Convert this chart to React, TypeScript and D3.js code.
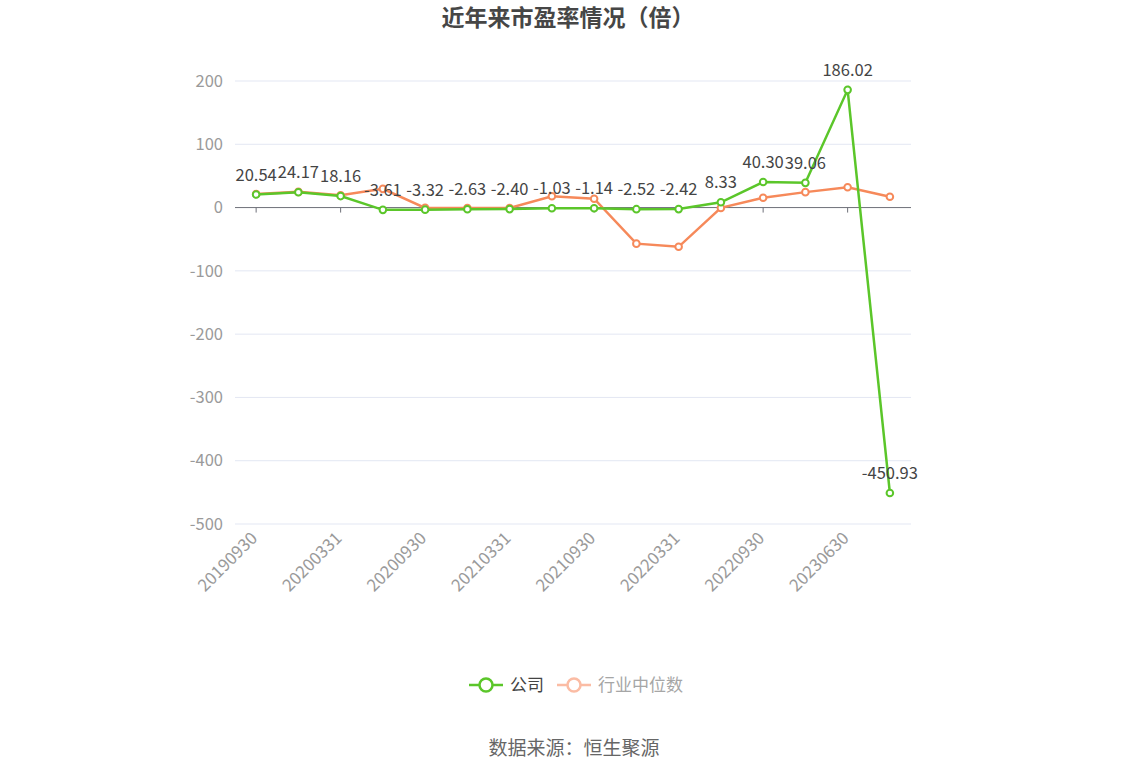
import * as d3 from 'd3';
import React, { useEffect, useRef } from 'react';

const TITLE = "近年来市盈率情况（倍）";
const SOURCE = "数据来源：恒生聚源";

const periods = [
  "20190930", "20191231", "20200331", "20200630", "20200930", "20201231",
  "20210331", "20210630", "20210930", "20211231", "20220331", "20220630",
  "20220930", "20221231", "20230630", "20230930",
];
const companyPE = [
  20.54, 24.17, 18.16, -3.61, -3.32, -2.63, -2.40, -1.03,
  -1.14, -2.52, -2.42, 8.33, 40.30, 39.06, 186.02, -450.93,
];
const industryPE = [
  21.5, 24.8, 19.3, 29.6, -0.5, -0.6, -0.8, 18.0,
  14.0, -57.0, -62.0, -0.5, 15.6, 24.4, 32.0, 17.0,
];
const yTicks = [200, 100, 0, -100, -200, -300, -400, -500];

const GREEN = "#5bc62a";
const ORANGE = "#f6895a";

const App: React.FC = () => {
  const svgRef = useRef<SVGSVGElement>(null);

  useEffect(() => {
    if (!svgRef.current) { return; }
    const svg = d3.select(svgRef.current);
    svg.selectAll("*").remove();

    const width = 1148;
    const height = 776;
    const margin = { top: 81, right: 237, bottom: 252, left: 235 };
    const chartW = width - margin.left - margin.right;
    const chartH = height - margin.top - margin.bottom;

    const x = d3.scaleBand().domain(periods).range([0, chartW]);
    const y = d3.scaleLinear().domain([-500, 200]).range([chartH, 0]);
    const cx = (p: string) => x(p)! + x.bandwidth() / 2;

    const font = "'Microsoft YaHei', 'Noto Sans CJK SC', sans-serif";

    // title
    svg.append("text")
      .attr("x", 568).attr("y", 26)
      .attr("text-anchor", "middle")
      .style("font-family", font)
      .style("font-size", "23px")
      .style("font-weight", "bold")
      .style("fill", "#464646")
      .text(TITLE);

    const g = svg.append("g").attr("transform", `translate(${margin.left},${margin.top})`);

    // grid lines
    g.selectAll(".grid")
      .data(yTicks.filter(t => t !== 0))
      .enter().append("line")
      .attr("x1", 0).attr("x2", chartW)
      .attr("y1", t => y(t)).attr("y2", t => y(t))
      .style("stroke", "#e3e7f3")
      .style("stroke-width", 1);

    // y labels
    g.selectAll(".ylab")
      .data(yTicks)
      .enter().append("text")
      .attr("x", -12).attr("y", t => y(t))
      .attr("dy", "0.35em")
      .attr("text-anchor", "end")
      .style("font-family", font)
      .style("font-size", "16.5px")
      .style("fill", "#9a9a9a")
      .text(t => `${t}`);

    // zero axis line
    g.append("line")
      .attr("x1", 0).attr("x2", chartW)
      .attr("y1", y(0)).attr("y2", y(0))
      .style("stroke", "#6e7079")
      .style("stroke-width", 1);

    const shown = periods.filter((_, i) => i % 2 === 0);
    g.selectAll(".xtick")
      .data(shown)
      .enter().append("line")
      .attr("x1", p => cx(p)).attr("x2", p => cx(p))
      .attr("y1", y(0)).attr("y2", y(0) + 5)
      .style("stroke", "#6e7079");

    g.selectAll(".xlab")
      .data(shown)
      .enter().append("text")
      .attr("transform", p => `translate(${cx(p) - 2},${chartH + 11}) rotate(-45)`)
      .attr("text-anchor", "end")
      .attr("dy", "0.35em")
      .style("font-family", font)
      .style("font-size", "17px")
      .style("fill", "#9a9a9a")
      .text(p => p);

    const drawSeries = (vals: number[], color: string) => {
      const line = d3.line<number>()
        .x((_, i) => cx(periods[i]))
        .y(v => y(v));
      g.append("path")
        .datum(vals)
        .attr("d", line)
        .style("fill", "none")
        .style("stroke", color)
        .style("stroke-width", 2.5);
      g.selectAll(null)
        .data(vals)
        .enter().append("circle")
        .attr("cx", (_, i) => cx(periods[i]))
        .attr("cy", v => y(v))
        .attr("r", 3.3)
        .style("fill", "#fff")
        .style("stroke", color)
        .style("stroke-width", 2);
    };

    drawSeries(industryPE, ORANGE);
    drawSeries(companyPE, GREEN);

    // value labels for company series
    g.selectAll(".vlab")
      .data(companyPE)
      .enter().append("text")
      .attr("x", (_, i) => cx(periods[i]))
      .attr("y", v => y(v) - 14)
      .attr("text-anchor", "middle")
      .style("font-family", font)
      .style("font-size", "16.5px")
      .style("fill", "#444")
      .text(v => v.toFixed(2));

    // legend
    const legend = svg.append("g").attr("transform", "translate(0,685)");
    const items = [
      { name: "公司", color: GREEN, text: "#444", x: 469 },
      { name: "行业中位数", color: "#fbbca4", text: "#a6a6a6", x: 557 },
    ];
    items.forEach(it => {
      legend.append("line")
        .attr("x1", it.x).attr("x2", it.x + 34)
        .attr("y1", 0).attr("y2", 0)
        .style("stroke", it.color).style("stroke-width", 2.5);
      legend.append("circle")
        .attr("cx", it.x + 17).attr("cy", 0).attr("r", 6.5)
        .style("fill", "#fff").style("stroke", it.color).style("stroke-width", 2.5);
      legend.append("text")
        .attr("x", it.x + 41).attr("y", 0).attr("dy", "0.35em")
        .style("font-family", font)
        .style("font-size", "17px")
        .style("fill", it.text)
        .text(it.name);
    });

    svg.append("text")
      .attr("x", 574).attr("y", 755)
      .attr("text-anchor", "middle")
      .style("font-family", font)
      .style("font-size", "19px")
      .style("fill", "#666")
      .text(SOURCE);
  }, []);

  return (
    <svg
      ref={svgRef}
      width={1148}
      height={776}
      style={{ position: "absolute", left: 0, top: 0, background: "#fff" }}
    />
  );
};

export default App;
